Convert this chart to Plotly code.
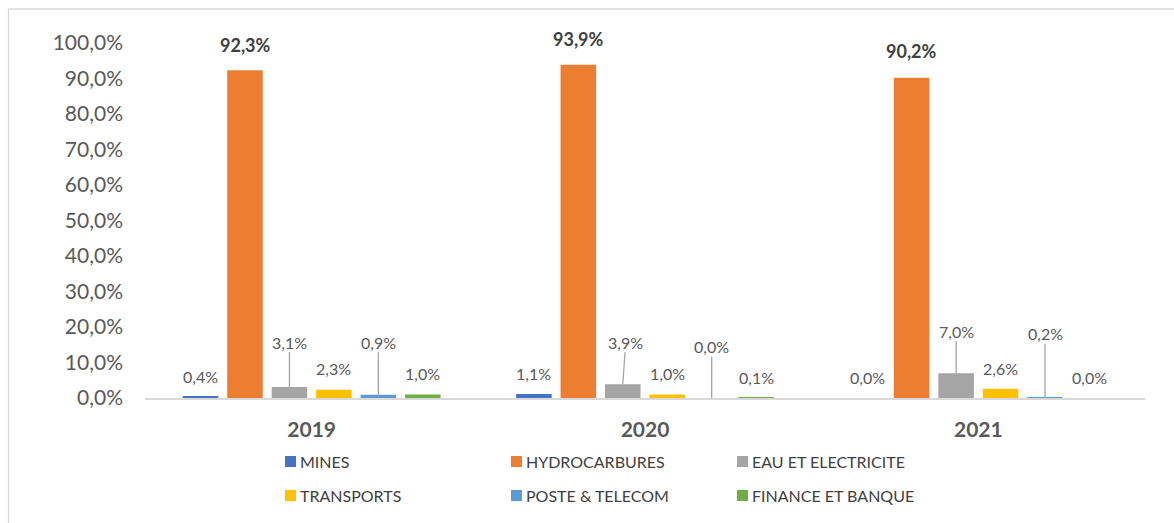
import plotly.graph_objects as go

# ---- data -------------------------------------------------------------
years = ["2019", "2020", "2021"]
series_names = ["MINES", "HYDROCARBURES", "EAU ET ELECTRICITE",
                "TRANSPORTS", "POSTE & TELECOM", "FINANCE ET BANQUE"]
mines = [0.4, 1.1, 0.0]
hydrocarbures = [92.3, 93.9, 90.2]
eau_electricite = [3.1, 3.9, 7.0]
transports = [2.3, 1.0, 2.6]
poste_telecom = [0.9, 0.0, 0.2]
finance_banque = [1.0, 0.1, 0.0]
y_ticks = [0, 10, 20, 30, 40, 50, 60, 70, 80, 90, 100]
y_tick_labels = ["0,0%", "10,0%", "20,0%", "30,0%", "40,0%", "50,0%",
                 "60,0%", "70,0%", "80,0%", "90,0%", "100,0%"]

# ---- styling ----------------------------------------------------------
colors = ["#4472C4", "#ED7D31", "#A5A5A5", "#FFC000", "#5B9BD5", "#70AD47"]
# label lift above the bar top (px), per series and per year
label_lift = [
    [20, 21, 21],
    [25, 25.5, 26.5],
    [45, 42, 42],
    [21, 21, 20.5],
    [52.5, 51.5, 63.5],
    [21, 20.5, 21],
]
label_dx = [
    [0, 0, 0],
    [0, 0, 0],
    [0, 3, 0],
    [0, 0, 0],
    [0, 0, 0],
    [0, 0, 0],
]
with_leader = [False, False, True, False, True, False]
bold_label = [False, True, False, False, False, False]

FONT = "Lato"
W, H = 1174, 523
L, R, T, B = 145, 29, 43, 125
PW, PH = W - L - R, H - T - B
BARGAP, GROUPGAP = 0.2, 0.2


def px(x):
    return (x - L) / PW


def py(y):
    return (H - B - y) / PH


def fmt(v):
    return f"{v:.1f}".replace(".", ",") + "%"


values = [mines, hydrocarbures, eau_electricite, transports,
          poste_telecom, finance_banque]

fig = go.Figure()
for name, vals, col in zip(series_names, values, colors):
    fig.add_trace(go.Bar(x=years, y=vals, name=name, marker_color=col,
                         marker_line_width=0, showlegend=False))

# data labels, positioned relative to each bar
n = len(series_names)
slot = (1 - BARGAP) / n
annotations = []
for i, vals in enumerate(values):
    for j, v in enumerate(vals):
        xpos = j + (i - (n - 1) / 2) * slot
        font = dict(family=FONT,
                    size=18 if bold_label[i] else 16,
                    color="#404040" if bold_label[i] else "#595959")
        text = f"<b>{fmt(v)}</b>" if bold_label[i] else fmt(v)
        if with_leader[i]:
            annotations.append(dict(
                x=xpos, y=v, xref="x", yref="y", text=text, font=font,
                showarrow=True, arrowhead=0, arrowwidth=1.3,
                arrowcolor="#A5A5A5", standoff=0, startstandoff=0,
                ax=label_dx[i][j], ay=-label_lift[i][j], borderpad=0))
        else:
            annotations.append(dict(
                x=xpos, y=v, xref="x", yref="y", text=text, font=font,
                showarrow=False, yanchor="middle",
                xshift=label_dx[i][j], yshift=label_lift[i][j]))

# legend: two rows of three entries
legend_cols = [285, 511, 737]
legend_rows = [461.5, 495.5]
shapes = []
for k, (name, col) in enumerate(zip(series_names, colors)):
    x0 = legend_cols[k % 3]
    yc = legend_rows[k // 3]
    shapes.append(dict(type="rect", xref="paper", yref="paper",
                       x0=px(x0), x1=px(x0 + 11), y0=py(yc + 5.5), y1=py(yc - 5.5),
                       fillcolor=col, line_width=0))
    annotations.append(dict(x=px(x0 + 13), y=py(yc), xref="paper", yref="paper",
                            text=name, showarrow=False, xanchor="left",
                            yanchor="middle",
                            font=dict(family=FONT, size=16, color="#404040")))

# outer chart frame
shapes.append(dict(type="rect", xref="paper", yref="paper",
                   x0=px(8.5), x1=px(W + 20), y0=py(H + 20), y1=py(9),
                   line=dict(color="#D9D9D9", width=1.3), fillcolor="rgba(0,0,0,0)",
                   layer="below"))

fig.update_layout(
    width=W, height=H,
    margin=dict(l=L, r=R, t=T, b=B),
    paper_bgcolor="white", plot_bgcolor="white",
    barmode="group", bargap=BARGAP, bargroupgap=GROUPGAP,
    showlegend=False,
    annotations=annotations,
    shapes=shapes,
    xaxis=dict(type="category", showline=True, linecolor="#D9D9D9", linewidth=1.5,
               ticks="", showgrid=False, zeroline=False,
               tickfont=dict(family=FONT, size=21, color="#595959"),
               ticklabelstandoff=12,
               tickprefix="<b>", ticksuffix="</b>"),
    yaxis=dict(range=[0, 100], tickmode="array", tickvals=y_ticks,
               ticktext=y_tick_labels,
               showgrid=False, zeroline=False, showline=False, ticks="",
               tickfont=dict(family=FONT, size=21, color="#595959"),
               ticklabelstandoff=21),
)

fig.write_html("out.html")
